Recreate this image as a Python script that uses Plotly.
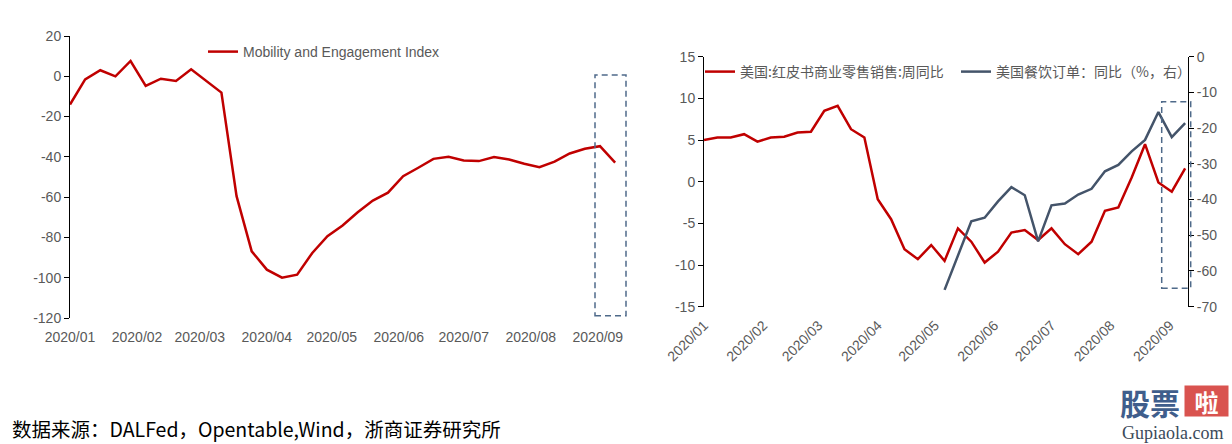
import pandas as pd
import plotly.graph_objects as go

W, H = 1232, 444

# weekly observations, 2020-01-01 .. 2020-09-09
dates = pd.date_range("2020-01-01", periods=37, freq="7D")

mobility = [-14, -1.5, 3, 0, 7.6, -4.8, -1.2, -2.3, 3.5, -2.5,
            -8.1, -59.5, -86.9, -96, -100, -98.5, -87.7, -79.4, -74.1, -67.5,
            -61.7, -57.8, -49.6, -45.4, -41, -40, -41.8, -42.1, -40.1, -41.3,
            -43.4, -45.1, -42.4, -38.3, -36, -34.7, -42.9]

redbook = [5.0, 5.3, 5.3, 5.7, 4.8, 5.3, 5.4, 5.9, 6.0, 8.5,
           9.1, 6.3, 5.3, -2.1, -4.5, -8.1, -9.3, -7.6, -9.5, -5.6,
           -7.2, -9.7, -8.4, -6.1, -5.8, -7.0, -5.6, -7.5, -8.7, -7.2,
           -3.5, -3.1, 0.5, 4.5, -0.1, -1.2, 1.6]

opentable = [None] * 18 + [-65.3, -55.5, -46.1, -45.1, -40.5, -36.5, -38.8, -51.7, -41.6, -41.1,
                           -38.6, -37.0, -32.1, -30.3, -26.5, -23.3, -15.5, -22.5, -18.6]

left_ticks = [20, 0, -20, -40, -60, -80, -100, -120]
right_ticks = [15, 10, 5, 0, -5, -10, -15]
right2_ticks = [0, -10, -20, -30, -40, -50, -60, -70]

name_left = "Mobility and Engagement Index"
name_red = "美国:红皮书商业零售销售:周同比"
name_blue = "美国餐饮订单：同比（%，右）"

RED = "#C00000"
SLATE = "#44546A"
BOX = "#4F6A8A"
GREY = "#595959"
FONT = "Liberation Sans, Arial, sans-serif"
CJK = "Noto Sans CJK SC, sans-serif"


def px_x(p):
    return p / W


def px_y(p):
    return 1 - p / H


left_dom_x = [px_x(70), px_x(620)]
left_dom_y = [px_y(318), px_y(36)]
right_dom_x = [px_x(704), px_x(1188)]
right_dom_y = [px_y(306.7), px_y(56.7)]

left_range_x = ["2020-01-01", "2020-09-11 06:00"]
right_range_x = ["2020-01-01", "2020-09-10 12:00"]
left_range_y = [-120, 20]
right_range_y = [-15, 15]


def zero_pos(dom, rng):
    return dom[0] + (0 - rng[0]) / (rng[1] - rng[0]) * (dom[1] - dom[0])


fig = go.Figure()

fig.add_trace(go.Scatter(x=dates, y=mobility, name=name_left, mode="lines",
                         line=dict(color=RED, width=2.5), xaxis="x", yaxis="y", legend="legend"))
fig.add_trace(go.Scatter(x=dates, y=redbook, name=name_red, mode="lines",
                         line=dict(color=RED, width=2.5), xaxis="x2", yaxis="y2", legend="legend2"))
fig.add_trace(go.Scatter(x=dates, y=opentable, name=name_blue, mode="lines",
                         line=dict(color=SLATE, width=2.5), xaxis="x2", yaxis="y3", legend="legend2"))

tickfont = dict(family=FONT, size=14, color=GREY)

date_ticks = dict(type="date", tick0="2020-01-01", dtick="M1", tickformat="%Y/%m",
                  showgrid=False, zeroline=False)

yax_common = dict(showgrid=False, zeroline=False, showline=True, linecolor="black", linewidth=1,
                  ticks="outside", ticklen=5, tickcolor="black", tickfont=tickfont)

fig.update_layout(
    width=W, height=H,
    margin=dict(l=0, r=0, t=0, b=0, autoexpand=False),
    paper_bgcolor="white", plot_bgcolor="white",
    # left chart
    xaxis=dict(domain=left_dom_x, anchor="y", range=left_range_x, showline=False,
               ticks="outside", ticklen=6, tickcolor="rgba(0,0,0,0)", tickfont=tickfont, **date_ticks),
    xaxis3=dict(overlaying="x", anchor="free", position=zero_pos(left_dom_y, left_range_y),
                range=left_range_x, showline=True, linecolor="black", linewidth=1,
                ticks="outside", ticklen=4, tickcolor="black", showticklabels=False, **date_ticks),
    yaxis=dict(domain=left_dom_y, anchor="x", range=left_range_y,
               tickvals=left_ticks, ticktext=[str(v) for v in left_ticks], **yax_common),
    # right chart
    xaxis2=dict(domain=right_dom_x, anchor="y2", range=right_range_x, showline=False,
                ticks="outside", ticklen=4, tickcolor="rgba(0,0,0,0)", tickangle=-45,
                tickfont=tickfont, **date_ticks),
    xaxis4=dict(overlaying="x2", anchor="free", position=zero_pos(right_dom_y, right_range_y),
                range=right_range_x, showline=True, linecolor="black", linewidth=1,
                ticks="outside", ticklen=4, tickcolor="black", showticklabels=False, **date_ticks),
    yaxis2=dict(domain=right_dom_y, anchor="x2", range=right_range_y,
                tickvals=right_ticks, ticktext=[str(v) for v in right_ticks], **yax_common),
    yaxis3=dict(overlaying="y2", anchor="x2", side="right", range=[-70, 0],
                tickvals=right2_ticks, ticktext=[str(v) for v in right2_ticks], **yax_common),
    legend=dict(x=px_x(203), y=px_y(52), xanchor="left", yanchor="middle",
                bgcolor="rgba(0,0,0,0)", font=dict(family=FONT, size=14, color=GREY)),
    legend2=dict(orientation="h", x=px_x(700), y=px_y(72), xanchor="left", yanchor="middle",
                 entrywidth=211, entrywidthmode="pixels",
                 bgcolor="rgba(0,0,0,0)", font=dict(family=CJK, size=14, color=GREY)),
    showlegend=True,
)

# dashed highlight boxes around the latest weeks
for x0, x1, y0, y1 in [(595, 626, 315.7, 75), (1161.7, 1190.7, 288.3, 101.7)]:
    fig.add_shape(type="rect", xref="paper", yref="paper",
                  x0=px_x(x0), x1=px_x(x1), y0=px_y(y0), y1=px_y(y1),
                  line=dict(color=BOX, width=1.5, dash="6px,4px"), fillcolor="rgba(0,0,0,0)")

fig.add_annotation(text="数据来源：DALFed，Opentable,Wind，浙商证券研究所", xref="paper", yref="paper",
                   x=px_x(10), y=px_y(428), xanchor="left", yanchor="middle", showarrow=False,
                   font=dict(family=CJK, size=19.5, color="black"))

# watermark
fig.add_annotation(text="<b>股票</b>", xref="paper", yref="paper", x=px_x(1150), y=px_y(402),
                   xanchor="center", yanchor="middle", showarrow=False,
                   font=dict(family=CJK, size=30, color="#3F5E8C"))
fig.add_annotation(text="<b>啦</b>", xref="paper", yref="paper", x=px_x(1206.5), y=px_y(401),
                   xanchor="center", yanchor="middle", showarrow=False, bgcolor="#D9534F",
                   width=43, height=30, borderpad=0, font=dict(family=CJK, size=24, color="white"))
fig.add_annotation(text="Gupiaola.com", xref="paper", yref="paper", x=px_x(1172), y=px_y(433),
                   xanchor="center", yanchor="middle", showarrow=False,
                   font=dict(family="Liberation Serif, serif", size=18, color="#3B4A5A"))

fig.write_html("out.html", config=dict(displayModeBar=False),
               post_script="document.body.style.margin='0';document.body.style.overflow='hidden';")
